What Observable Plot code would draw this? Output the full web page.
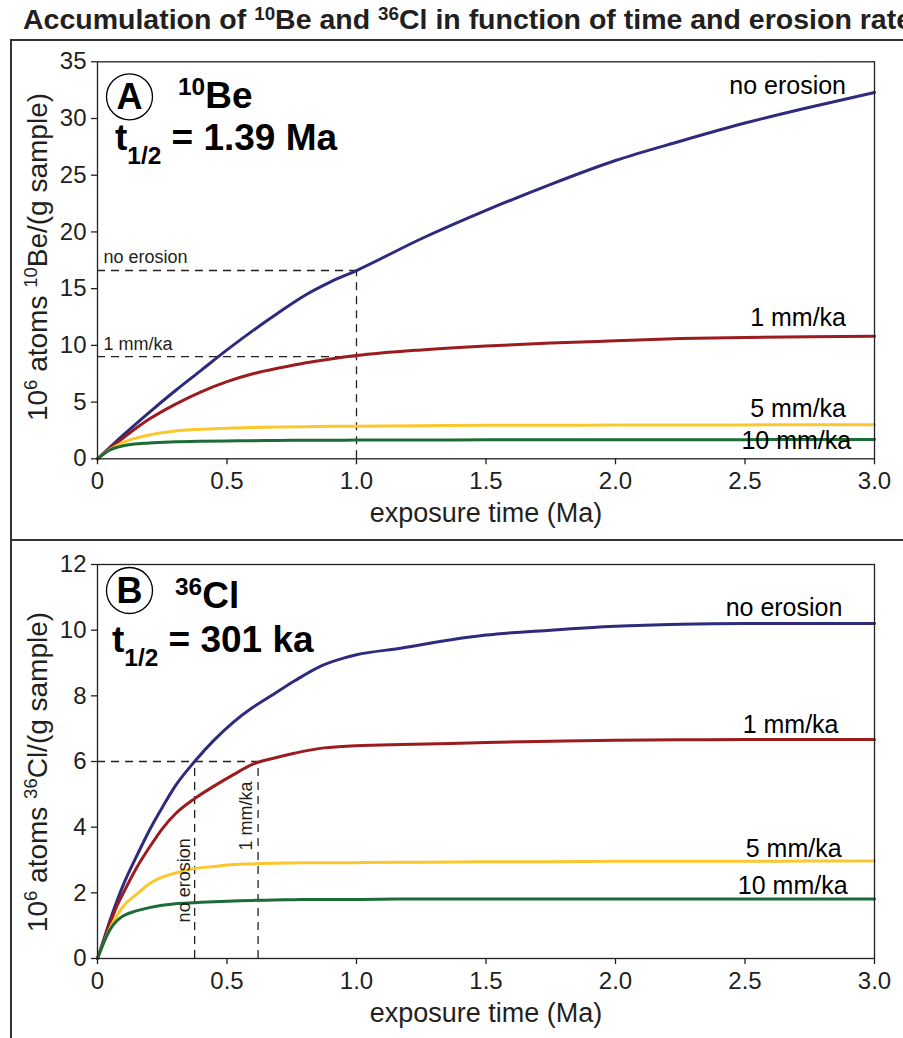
<!DOCTYPE html>
<html><head><meta charset="utf-8">
<script src="https://cdn.jsdelivr.net/npm/d3@7"></script>
<script src="https://cdn.jsdelivr.net/npm/@observablehq/plot@0.6"></script>
<style>
html,body{margin:0;padding:0;background:#fff;width:903px;height:1038px;overflow:hidden;font-family:"Liberation Sans",Arial,Helvetica,sans-serif;color:#231f20}
#title{position:absolute;left:23px;top:5px;white-space:nowrap;font-weight:bold;font-size:28.5px;line-height:1;}
#title .sup{font-size:0.66em;position:relative;top:-0.5em}
.box{position:absolute;left:10px;width:1000px;border:2px solid #333;box-sizing:border-box}
#boxA{top:39px;height:502px}
#boxB{top:539px;height:600px}
.chart{position:absolute;left:0}
#chartA{top:40px}
#chartB{top:540px}
</style>
</head><body>
<div id="title">Accumulation of <span class="sup">10</span>Be and <span class="sup">36</span>Cl in function of time and erosion rate</div>
<div class="box" id="boxA"></div>
<div class="box" id="boxB"></div>
<div class="chart" id="chartA"></div>
<div class="chart" id="chartB"></div>
<script>
// ---------- data ----------
const seriesNames = ["no erosion", "1 mm/ka", "5 mm/ka", "10 mm/ka"];
const seriesColors = ["#2e2a7c", "#9b1b1f", "#fcc72c", "#1b6c36"];

const xTicks = [0, 0.5, 1, 1.5, 2, 2.5, 3];
const xTickLabels = ["0", "0.5", "1.0", "1.5", "2.0", "2.5", "3.0"];
const yTicksA = [0, 5, 10, 15, 20, 25, 30, 35];
const yTicksB = [0, 2, 4, 6, 8, 10, 12];

// Panel A: 10Be (10^6 atoms/g) vs exposure time (Ma)
const timeA = [0, 0.05, 0.1, 0.2, 0.3, 0.4, 0.5, 0.6, 0.7, 0.8, 0.9, 1.0, 1.25, 1.5, 1.75, 2.0, 2.25, 2.5, 2.75, 3.0];
const beNoErosion = [0, 1.05, 2.1, 4.1, 6.0, 7.8, 9.6, 11.3, 12.9, 14.4, 15.6, 16.6, 19.4, 21.9, 24.2, 26.3, 28.0, 29.6, 31.0, 32.3];
const be1mm = [0, 0.95, 1.85, 3.5, 4.8, 5.9, 6.8, 7.5, 8.0, 8.45, 8.8, 9.1, 9.6, 9.95, 10.2, 10.4, 10.6, 10.7, 10.75, 10.8];
const be5mm = [0, 0.85, 1.45, 2.1, 2.45, 2.6, 2.7, 2.75, 2.8, 2.83, 2.86, 2.88, 2.92, 2.95, 2.96, 2.97, 2.98, 2.99, 3.0, 3.0];
const be10mm = [0, 0.8, 1.15, 1.4, 1.5, 1.55, 1.58, 1.6, 1.62, 1.63, 1.64, 1.65, 1.66, 1.67, 1.68, 1.68, 1.69, 1.69, 1.7, 1.7];

// Panel B: 36Cl (10^6 atoms/g) vs exposure time (Ma)
const timeB = [0, 0.025, 0.05, 0.075, 0.1, 0.15, 0.2, 0.25, 0.3, 0.375, 0.45, 0.525, 0.6, 0.68, 0.76, 0.86, 0.95, 1.0, 1.17, 1.36, 1.5, 1.75, 2.0, 2.25, 2.5, 2.75, 3.0];
const clNoErosion = [0, 0.6, 1.2, 1.75, 2.25, 3.1, 3.9, 4.6, 5.25, 6.0, 6.65, 7.2, 7.65, 8.05, 8.45, 8.9, 9.15, 9.25, 9.45, 9.7, 9.85, 10.0, 10.12, 10.18, 10.2, 10.2, 10.2];
const cl1mm = [0, 0.55, 1.1, 1.6, 2.0, 2.75, 3.38, 3.95, 4.4, 4.87, 5.25, 5.6, 5.92, 6.1, 6.25, 6.4, 6.46, 6.48, 6.52, 6.55, 6.58, 6.62, 6.65, 6.66, 6.67, 6.67, 6.67];
const cl5mm = [0, 0.5, 0.95, 1.3, 1.6, 1.95, 2.28, 2.48, 2.6, 2.74, 2.8, 2.86, 2.88, 2.9, 2.91, 2.92, 2.92, 2.92, 2.93, 2.94, 2.95, 2.95, 2.96, 2.96, 2.96, 2.97, 2.97];
const cl10mm = [0, 0.5, 0.9, 1.15, 1.3, 1.45, 1.55, 1.62, 1.67, 1.7, 1.73, 1.75, 1.77, 1.78, 1.79, 1.8, 1.8, 1.8, 1.81, 1.81, 1.81, 1.81, 1.81, 1.81, 1.81, 1.81, 1.81];

// curve labels (right end x, vertical centre y)
const labelXA = [2.89, 2.89, 2.89, 2.91];
const labelYA = [32.9, 12.4, 4.35, 1.53];
const labelXB = [2.876, 2.861, 2.873, 2.896];
const labelYB = [10.69, 7.1, 3.35, 2.22];

// dashed read-off guides
const guideA = {time: 1.0, values: [16.6, 9.0], texts: ["no erosion", "1 mm/ka"], textY: [17.8, 10.1]};
const guideB = {value: 6.0, times: [0.375, 0.62], texts: ["no erosion", "1 mm/ka"], textX: [0.334, 0.575], textY: [1.1, 3.29]};

// ---------- helpers ----------
const FONT = "Liberation Sans, Arial, Helvetica, sans-serif";
const INK = "#231f20";
function tidy(time, arrays) {
  const rows = [];
  arrays.forEach((arr, s) => arr.forEach((v, i) => rows.push({series: seriesNames[s], t: time[i], v})));
  return rows;
}
const lblRows = (xs, ys) => seriesNames.map((n, i) => ({n, x: xs[i], y: ys[i]}));
const fmtX = d => xTickLabels[xTicks.indexOf(d)];

function basePlot(opts, extra) {
  return Plot.plot({
    width: 903,
    height: opts.height,
    marginLeft: 97, marginRight: 29, marginTop: opts.mt, marginBottom: opts.mb,
    x: {domain: [0, 3]},
    y: {domain: opts.ydomain},
    color: {domain: seriesNames, range: seriesColors},
    style: {fontFamily: FONT, fontSize: "24px", color: INK, background: "transparent", overflow: "visible"},
    marks: [
      ...extra.before,
      Plot.line(opts.rows, {x: "t", y: "v", z: "series", stroke: "series", strokeWidth: 3, curve: "monotone-x"}),
      Plot.frame({stroke: INK, strokeWidth: 1.3}),
      Plot.axisX({ticks: xTicks, tickFormat: fmtX, tickSize: 6, tickPadding: 7, label: null, fontSize: 24, stroke: INK, strokeWidth: 1.3}),
      Plot.axisY({ticks: opts.yticks, tickSize: 6, tickPadding: 5, label: null, fontSize: 24, stroke: INK, strokeWidth: 1.3}),
      Plot.text(opts.labels, {x: "x", y: "y", text: "n", textAnchor: "end", lineAnchor: "middle", fontSize: 25, fill: "black"}),
      Plot.text(["exposure time (Ma)"], {frameAnchor: "bottom", dy: 63, fontSize: 27, fill: INK}),
      Plot.dot([0], {frameAnchor: "top-left", dx: 32, dy: opts.circleDy, r: 23, stroke: "black", strokeWidth: 1.3, fill: "none"}),
      Plot.text([opts.letter], {frameAnchor: "top-left", dx: 32, dy: opts.circleDy + 1, fontSize: 36, fontWeight: "bold", fill: "black", textAnchor: "middle", lineAnchor: "middle"}),
      ...extra.after
    ]
  });
}

const dashStyle = {stroke: INK, strokeWidth: 1.3, strokeDasharray: "8,6"};

// ---------- panel A ----------
const plotA = basePlot({
  height: 500, mt: 21.3, mb: 81.7, ydomain: [0, 35], yticks: yTicksA,
  rows: tidy(timeA, [beNoErosion, be1mm, be5mm, be10mm]),
  labels: lblRows(labelXA, labelYA), letter: "A", circleDy: 35
}, {
  before: [
    Plot.ruleY(guideA.values, {x1: 0, x2: guideA.time, y: d => d, ...dashStyle}),
    Plot.ruleX([guideA.time], {x: d => d, y1: 0, y2: guideA.values[0], ...dashStyle})
  ],
  after: [
    Plot.text(guideA.texts, {x: 0.023, y: (d, i) => guideA.textY[i], text: d => d, textAnchor: "start", lineAnchor: "middle", fontSize: 18, fill: INK})
  ]
});
document.getElementById("chartA").appendChild(plotA);

// ---------- panel B ----------
const plotB = basePlot({
  height: 498, mt: 24, mb: 80, ydomain: [0, 12], yticks: yTicksB,
  rows: tidy(timeB, [clNoErosion, cl1mm, cl5mm, cl10mm]),
  labels: lblRows(labelXB, labelYB), letter: "B", circleDy: 26
}, {
  before: [
    Plot.ruleY([guideB.value], {x1: 0, x2: guideB.times[1], y: d => d, ...dashStyle}),
    Plot.ruleX(guideB.times, {x: d => d, y1: 0, y2: guideB.value, ...dashStyle})
  ],
  after: [
    Plot.text(guideB.texts, {x: (d, i) => guideB.textX[i], y: (d, i) => guideB.textY[i], text: d => d, rotate: -90, textAnchor: "start", lineAnchor: "middle", fontSize: 18, fill: INK})
  ]
});
document.getElementById("chartB").appendChild(plotB);

// ---------- rich text (superscripts / subscripts) ----------
function richText(svg, x, y, parts, opts) {
  const t = d3.select(svg).append("text")
    .attr("x", x).attr("y", y)
    .attr("font-family", FONT).attr("font-size", opts.size)
    .attr("font-weight", opts.weight || "normal").attr("fill", opts.fill || "black")
    .attr("text-anchor", opts.rotate ? "middle" : "start");
  if (opts.rotate) t.attr("transform", `rotate(${opts.rotate},${x},${y})`);
  parts.forEach(([txt, kind]) => {
    const s = t.append("tspan").text(txt);
    if (kind === "sup") s.attr("font-size", opts.size * 0.66).attr("baseline-shift", "super");
    else if (kind === "sub") s.attr("font-size", opts.size * 0.66).attr("baseline-shift", "sub");
    else s.attr("baseline-shift", "0");
  });
}
// y-axis labels
richText(plotA, 47, 217, [["10"], ["6", "sup"], [" atoms "], ["10", "sup"], ["Be/(g sample)"]], {size: 28, rotate: -90, fill: INK});
richText(plotB, 47, 232, [["10"], ["6", "sup"], [" atoms "], ["36", "sup"], ["Cl/(g sample)"]], {size: 28, rotate: -90, fill: INK});
// panel headings
richText(plotA, 178, 68, [["10", "sup"], ["Be"]], {size: 37, weight: "bold"});
richText(plotA, 115, 110, [["t"], ["1/2", "sub"], [" = 1.39 Ma"]], {size: 37, weight: "bold"});
richText(plotB, 175, 68, [["36", "sup"], ["Cl"]], {size: 37, weight: "bold"});
richText(plotB, 112, 112, [["t"], ["1/2", "sub"], [" = 301 ka"]], {size: 37, weight: "bold"});
</script>
</body></html>
